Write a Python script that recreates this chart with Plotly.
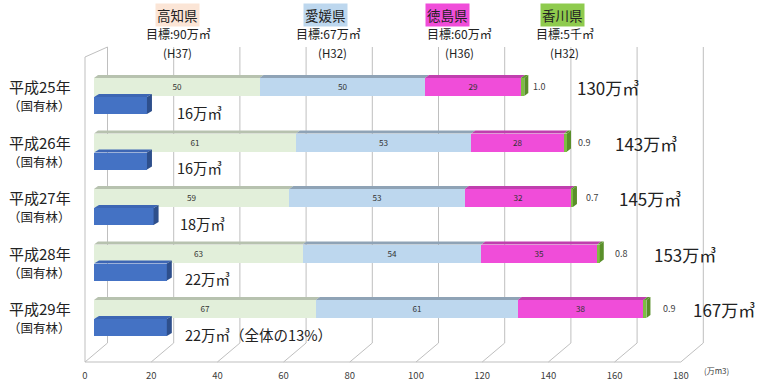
import plotly.graph_objects as go

# ---------------- data ----------------
years = ["平成25年", "平成26年", "平成27年", "平成28年", "平成29年"]
sub_label = "（国有林）"
kochi = [50, 61, 59, 63, 67]          # 高知県
ehime = [50, 53, 53, 54, 61]          # 愛媛県
tokushima = [29, 28, 32, 35, 38]      # 徳島県
kagawa = [1.0, 0.9, 0.7, 0.8, 0.9]    # 香川県
national = [16, 16, 18, 22, 22]       # 国有林
national_labels = ["16万㎥", "16万㎥", "18万㎥", "22万㎥", "22万㎥（全体の13%）"]
total_labels = ["130万㎥", "143万㎥", "145万㎥", "153万㎥", "167万㎥"]
x_ticks = [0, 20, 40, 60, 80, 100, 120, 140, 160, 180]
pref_names = ["高知県", "愛媛県", "徳島県", "香川県"]
pref_targets = ["目標:90万㎥", "目標:67万㎥", "目標:60万㎥", "目標:5千㎥"]
pref_years = ["(H37)", "(H32)", "(H36)", "(H32)"]

# ---------------- layout geometry ----------------
FONT = "Noto Sans CJK JP"
W, H = 763, 381
L, R, T, B = 84, 57, 47, 19
PW, PH = W - L - R, H - T - B
PXU = 3.31          # pixels per unit
X0_BAR = 94         # pixel of bar zero
X0_FRONT = 85       # pixel of front axis zero
ROW0, ROWSTEP = 96.25, 55.5
OFF = 9.25 / ROWSTEP
DX = 22.5 / PXU             # depth offset of back wall (units)
DY = 19 / PH                # depth offset of back wall (paper)
GRID = "#BFBFBF"
TXT = "#404040"

def px_x(p):
    return (p - L) / PW

def px_y(p):
    return (T + PH - p) / PH

seg_colors = ["#E2EFDA", "#BDD7EE", "#F04DD9", "#7DBE42"]
top_colors = ["#B7C2AF", "#8FA3B6", "#C03FAE", "#5E9530"]
series = [kochi, ehime, tokushima, kagawa]

fig = go.Figure()
n = len(years)
y_stack = [i - OFF for i in range(n)]
y_nat = [i + OFF for i in range(n)]

for k, (vals, col) in enumerate(zip(series, seg_colors)):
    fig.add_trace(go.Bar(
        x=vals, y=y_stack, orientation="h", width=18 / ROWSTEP,
        marker=dict(color=col, line=dict(width=0)),
        text=[f"{v:g}" for v in vals] if k < 3 else None,
        textposition="inside" if k < 3 else "none",
        insidetextanchor="middle", textangle=0,
        textfont=dict(size=9.5, color="#333333", family=FONT),
        hoverinfo="skip", showlegend=False, xaxis="x", yaxis="y"))

fig.add_trace(go.Bar(
    x=national, y=y_nat, orientation="h", width=17 / ROWSTEP,
    marker=dict(color="#4472C4", line=dict(width=0)),
    hoverinfo="skip", showlegend=False, xaxis="x", yaxis="y"))

shapes = []
# back grid, floor diagonals, front axis, left wall
for v in x_ticks:
    shapes.append(dict(type="line", xref="x2", yref="paper", x0=v + DX, x1=v + DX,
                       y0=DY, y1=1, line=dict(color=GRID, width=1), layer="below"))
    shapes.append(dict(type="line", xref="x2", yref="paper", x0=v, x1=v + DX,
                       y0=0, y1=DY, line=dict(color=GRID, width=1), layer="below"))
shapes.append(dict(type="line", xref="x2", yref="paper", x0=0, x1=x_ticks[-1],
                   y0=0, y1=0, line=dict(color=GRID, width=1), layer="below"))
wall_top = px_y(57)
shapes.append(dict(type="line", xref="x2", yref="paper", x0=0, x1=0,
                   y0=0, y1=wall_top, line=dict(color=GRID, width=1), layer="below"))
shapes.append(dict(type="line", xref="x2", yref="paper", x0=0, x1=DX,
                   y0=wall_top, y1=1, line=dict(color=GRID, width=1), layer="below"))

# 3D faces on bars
bd = 4 / PXU
bdy = 3 / ROWSTEP
for i in range(n):
    yt = y_stack[i] - 9 / ROWSTEP
    yb = y_stack[i] + 9 / ROWSTEP
    base = 0
    for k, vals in enumerate(series):
        x0, x1 = base, base + vals[i]
        shapes.append(dict(type="path", xref="x", yref="y",
                           path=f"M {x0},{yt} L {x1},{yt} L {x1 + bd},{yt - bdy} L {x0 + bd},{yt - bdy} Z",
                           fillcolor=top_colors[k], line=dict(width=0)))
        base = x1
    shapes.append(dict(type="path", xref="x", yref="y",
                       path=f"M {base},{yt} L {base + bd},{yt - bdy} L {base + bd},{yb - bdy} L {base},{yb} Z",
                       fillcolor="#5A8F2A", line=dict(width=0)))
    # national forest bar side/top
    nt = y_nat[i] - 8.5 / ROWSTEP
    nb = y_nat[i] + 8.5 / ROWSTEP
    v = national[i]
    sd = 5 / PXU
    shapes.append(dict(type="path", xref="x", yref="y",
                       path=f"M 0,{nt} L {v},{nt} L {v + sd},{nt - bdy} L {sd},{nt - bdy} Z",
                       fillcolor="#3D66B4", line=dict(width=0)))
    shapes.append(dict(type="path", xref="x", yref="y",
                       path=f"M {v},{nt} L {v + sd},{nt - bdy} L {v + sd},{nb - bdy} L {v},{nb} Z",
                       fillcolor="#2E4F8C", line=dict(width=0)))

ann = []
nat_shift = [28, 28, 24, 16, 16]
tot_shift = [51, 46, 44, 52, 45]
small_shift = [7, 9, 11, 13, 15]
for i in range(n):
    ann.append(dict(x=px_x(73), xref="paper", y=i - 0.167, yref="y", text=years[i],
                    xanchor="right", yanchor="middle", showarrow=False,
                    font=dict(size=15, color="#222222", family=FONT)))
    ann.append(dict(x=px_x(73), xref="paper", y=i + 0.175, yref="y", text=sub_label,
                    xanchor="right", yanchor="middle", showarrow=False,
                    font=dict(size=12.5, color="#222222", family=FONT)))
    ann.append(dict(x=national[i], xref="x", y=i + 0.284, yref="y", text=national_labels[i],
                    xanchor="left", yanchor="middle", xshift=nat_shift[i], showarrow=False,
                    font=dict(size=14.5, color="#222222", family=FONT)))
    total = kochi[i] + ehime[i] + tokushima[i] + kagawa[i]
    ann.append(dict(x=total, xref="x", y=i - 0.15, yref="y", text=total_labels[i],
                    xanchor="left", yanchor="middle", xshift=tot_shift[i], showarrow=False,
                    font=dict(size=17, color="#222222", family=FONT)))
    ann.append(dict(x=total, xref="x", y=i - 0.167, yref="y", text=f"{kagawa[i]:.1f}",
                    xanchor="left", yanchor="middle", xshift=small_shift[i], showarrow=False,
                    font=dict(size=9, color=TXT, family=FONT)))

hdr_x = [(177, 178, 177.5), (325, 328, 332), (447.5, 459, 459), (562, 565, 564)]
hdr_bg = ["#FBE5D6", "#BDD7EE", "#F04DD9", "#8FCB4E"]
for j in range(4):
    ann.append(dict(x=px_x(hdr_x[j][0]), xref="paper", y=px_y(15), yref="paper",
                    text=pref_names[j], showarrow=False, bgcolor=hdr_bg[j], borderpad=1,
                    xanchor="center", yanchor="middle",
                    font=dict(size=13.5, color="#222222", family=FONT)))
    ann.append(dict(x=px_x(hdr_x[j][1]), xref="paper", y=px_y(34), yref="paper",
                    text=pref_targets[j], showarrow=False, xanchor="center", yanchor="middle",
                    borderpad=0,
                    font=dict(size=12, color="#222222", family=FONT)))
    ann.append(dict(x=px_x(hdr_x[j][2]), xref="paper", y=px_y(52.5), yref="paper",
                    text=pref_years[j], showarrow=False, xanchor="center", yanchor="middle",
                    borderpad=0,
                    font=dict(size=11.5, color="#222222", family=FONT)))

ann.append(dict(x=px_x(702), xref="paper", y=px_y(371), yref="paper", text="(万m3)",
                showarrow=False, xanchor="left", yanchor="middle",
                font=dict(size=8, color=TXT, family=FONT)))

fig.update_layout(
    width=W, height=H, margin=dict(l=L, r=R, t=T, b=B, autoexpand=False),
    paper_bgcolor="white", plot_bgcolor="rgba(0,0,0,0)",
    barmode="stack", bargap=0,
    xaxis=dict(range=[(L - X0_BAR) / PXU, (L + PW - X0_BAR) / PXU], visible=False,
               fixedrange=True, automargin=False),
    xaxis2=dict(range=[(L - X0_FRONT) / PXU, (L + PW - X0_FRONT) / PXU], overlaying="x",
                anchor="y", side="bottom", tickvals=x_ticks, showgrid=False, zeroline=False,
                showline=False, ticks="outside", ticklen=5, tickcolor="rgba(0,0,0,0)",
                automargin=False,
                tickfont=dict(size=9.5, color=TXT, family=FONT)),
    yaxis=dict(range=[(T + PH - ROW0) / ROWSTEP, (T - ROW0) / ROWSTEP], visible=False,
               fixedrange=True, automargin=False),
    shapes=shapes, annotations=ann,
    font=dict(family=FONT),
)
# invisible helper trace that activates the front tick axis
fig.add_trace(go.Scatter(x=[0], y=[0], xaxis="x2", yaxis="y", mode="markers",
                         marker=dict(opacity=0), hoverinfo="skip", showlegend=False))

fig.write_html("out.html")
